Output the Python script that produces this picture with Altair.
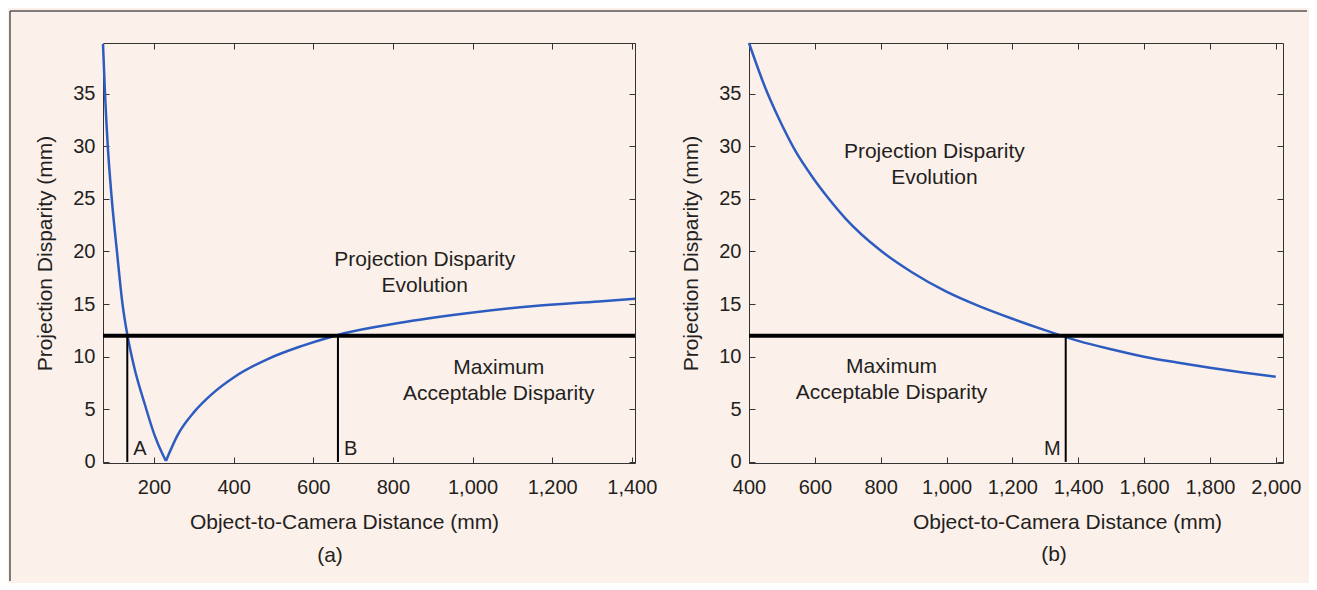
import altair as alt
import pandas as pd

# ---- data ----
# panel (a): two branches meeting at the minimum
a_left_dist = [72, 77, 84, 94, 107, 121, 133, 151, 176, 201, 222, 230]
a_left_disp = [39.7, 35, 30, 25, 20, 15, 12.1, 8.9, 5.6, 2.6, 0.7, 0.1]
a_right_dist = [230, 260, 302, 344, 403, 487, 570, 646, 675, 814, 981, 1149, 1317, 1408]
a_right_disp = [0.1, 2.6, 4.8, 6.4, 8.1, 9.8, 11.0, 11.9, 12.2, 13.2, 14.1, 14.8, 15.25, 15.5]

b_dist = [400, 450, 491, 540, 592, 640, 694, 795, 896, 998, 1099, 1200, 1301,
          1400, 1500, 1600, 1700, 1800, 1900, 2000]
b_disp = [39.8, 35.5, 32.6, 29.6, 27.1, 25.1, 23.1, 20.2, 18.0, 16.2, 14.8, 13.6,
          12.5, 11.5, 10.7, 10.0, 9.45, 8.95, 8.5, 8.1]

threshold = 12
a_cut_labels = ["A", "B"]
a_cut_x = [133, 662]
b_cut_labels = ["M"]
b_cut_x = [1362]
cut_label_y = 0.7

a_notes = ["Projection Disparity\nEvolution", "Maximum\nAcceptable Disparity"]
a_note_x = [880, 1066]
a_note_y = [19.2, 8.9]
b_notes = ["Projection Disparity\nEvolution", "Maximum\nAcceptable Disparity"]
b_note_x = [963, 833]
b_note_y = [29.45, 9.0]

a_xticks = [200, 400, 600, 800, 1000, 1200, 1400]
b_xticks = [400, 600, 800, 1000, 1200, 1400, 1600, 1800, 2000]
yticks = [0, 5, 10, 15, 20, 25, 30, 35]

a_xdomain = [72, 1408]
b_xdomain = [400, 2022]
ydomain = [-0.1, 39.8]

# ---- styling ----
BG = "#FCF0EB"
BLUE = "#2D5CC0"
INK = "#231F20"
FRAME = "#333333"
FONT = "Liberation Sans"
H = 420


def panel(curve_df, xdom, xticks, W, cut_labels, cut_x, notes, note_x, note_y,
          title_x, caption, caption_dx, caption_offset, cut_align, cut_dx, border=False):
    xs = alt.Scale(domain=xdom, nice=False, zero=False)
    ys = alt.Scale(domain=ydomain, nice=False, zero=False)

    main_x = alt.Axis(orient="bottom", values=xticks, format=",d", ticks=False,
                      domain=False, grid=False, labelPadding=14, labelFlush=False,
                      title="Object-to-Camera Distance (mm)", titlePadding=14,
                      titleX=title_x)
    main_y = alt.Axis(orient="left", values=yticks, ticks=False, domain=False,
                      grid=False, labelPadding=8, labelFlush=False,
                      title="Projection Disparity (mm)", titlePadding=17)

    def tick_axis(orient, values, offset):
        return alt.Axis(orient=orient, values=values, labels=False, domain=False,
                        grid=False, ticks=True, tickSize=6, tickColor=FRAME,
                        tickWidth=1, title=None, offset=offset)

    cut_df = pd.DataFrame({"dist": cut_x, "label": cut_labels,
                           "y0": [0] * len(cut_x), "y1": [threshold] * len(cut_x),
                           "ly": [cut_label_y] * len(cut_x)})
    note_df = pd.DataFrame({"nx": note_x, "ny": note_y, "note": notes})
    thr_df = pd.DataFrame({"t": [threshold]})

    curve = alt.Chart(curve_df).mark_line(
        color=BLUE, strokeWidth=2.5, interpolate="monotone"
    ).encode(
        x=alt.X("dist:Q", scale=xs, axis=main_x),
        y=alt.Y("disp:Q", scale=ys, axis=main_y),
        detail="branch:N",
        order="i:Q",
    )
    cuts = alt.Chart(cut_df).mark_rule(color="black", strokeWidth=2).encode(
        x=alt.X("dist:Q", scale=xs, axis=tick_axis("top", xticks, -H)),
        y=alt.Y("y0:Q", scale=ys, axis=tick_axis("right", yticks, -W)),
        y2="y1:Q",
    )
    cut_text = alt.Chart(cut_df).mark_text(
        align=cut_align, baseline="alphabetic", dx=cut_dx, fontSize=20,
        font=FONT, color=INK
    ).encode(
        x=alt.X("dist:Q", scale=xs, axis=tick_axis("bottom", xticks, -H)),
        y=alt.Y("ly:Q", scale=ys, axis=tick_axis("left", yticks, -W)),
        text="label:N",
    )
    thr = alt.Chart(thr_df).mark_rule(color="black", strokeWidth=4).encode(
        y=alt.Y("t:Q", scale=ys, axis=None)
    )
    note = alt.Chart(note_df).mark_text(
        align="center", baseline="middle", lineBreak="\n", lineHeight=26,
        fontSize=21, font=FONT, color=INK
    ).encode(
        x=alt.X("nx:Q", scale=xs, axis=None),
        y=alt.Y("ny:Q", scale=ys, axis=None),
        text="note:N",
    )
    layers = [curve, cuts, cut_text, thr, note]
    if border:
        one = pd.DataFrame({"k": [0]})
        left_border = alt.Chart(one).mark_rule(color="#555555", strokeWidth=1.5).encode(
            x=alt.value(-93), y=alt.value(-32), y2=alt.value(538))
        top_border = alt.Chart(one).mark_rule(color="#555555", strokeWidth=1.5).encode(
            x=alt.value(-93), x2=alt.value(1204), y=alt.value(-32))
        layers += [left_border, top_border]

    return alt.layer(*layers).resolve_axis(x="independent", y="independent").properties(
        width=W, height=H,
        title=alt.TitleParams(caption, orient="bottom", frame="group", dx=caption_dx,
                              offset=caption_offset, fontSize=21, font=FONT,
                              fontWeight="normal", color=INK),
    )


a_df = pd.concat([
    pd.DataFrame({"dist": a_left_dist, "disp": a_left_disp, "branch": "left",
                  "i": range(len(a_left_dist))}),
    pd.DataFrame({"dist": a_right_dist, "disp": a_right_disp, "branch": "right",
                  "i": range(len(a_right_dist))}),
], ignore_index=True)
b_df = pd.DataFrame({"dist": b_dist, "disp": b_disp, "branch": "one",
                     "i": range(len(b_dist))})

pa = panel(a_df, a_xdomain, a_xticks, 532, a_cut_labels, a_cut_x,
           a_notes, a_note_x, a_note_y, 241, "(a)", -39, -37, "left", 6, border=True)
pb = panel(b_df, b_xdomain, b_xticks, 534, b_cut_labels, b_cut_x,
           b_notes, b_note_x, b_note_y, 318, "(b)", 38, 12, "right", -5)

chart = alt.hconcat(
    pa, pb, spacing=114, bounds="flush",
    padding={"left": 0, "top": 1, "right": 0, "bottom": 0},
    background=BG,
).configure_view(
    stroke=FRAME, strokeWidth=1, fill=None
).configure_axis(
    labelFont=FONT, labelFontSize=20, labelColor=INK,
    titleFont=FONT, titleFontSize=21, titleFontWeight="normal", titleColor=INK,
)

chart.save("out.html", embed_options={"renderer": "svg", "actions": False})
